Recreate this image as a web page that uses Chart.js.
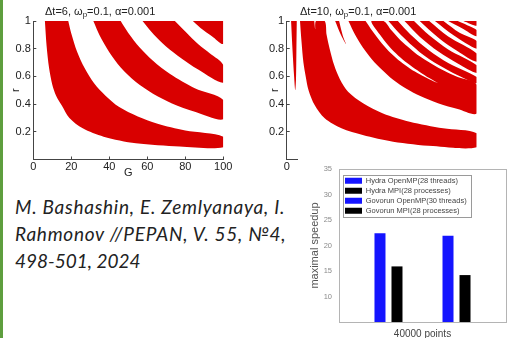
<!DOCTYPE html>
<html><head><meta charset="utf-8">
<script src="https://cdn.jsdelivr.net/npm/chart.js@4.4.1/dist/chart.umd.min.js"></script>
<style>
html,body{margin:0;padding:0;background:#fff;}
#page{position:relative;width:513px;height:338px;overflow:hidden;background:#fff;font-family:'Liberation Sans',Arial,sans-serif;}
.cv{position:absolute;}
.ttl{position:absolute;font-size:11px;color:#222;white-space:nowrap;line-height:13px;font-family:'Liberation Sans',Arial,sans-serif;}
.ttl sub{font-size:8px;vertical-align:-2px;line-height:0;}
#cite{position:absolute;left:15px;top:194.3px;font-family:Lato,'Open Sans',sans-serif;font-style:italic;font-size:19px;line-height:26.7px;color:#222;white-space:nowrap;}
#cite span{display:block;}
#edge{position:absolute;left:0;top:0;width:3px;height:338px;background:#5e9e3e;}
#barbox{position:absolute;left:298px;top:156px;width:215px;height:182px;background:#fff;}
</style></head>
<body><div id="page">
<div id="edge"></div>
<canvas id="c6" class="cv" style="left:0;top:0" width="236" height="185"></canvas>
<canvas id="c10" class="cv" style="left:255px;top:0" width="234" height="185"></canvas>
<div class="ttl" style="left:45px;top:5px">Δt=6, ω<sub>p</sub>=0.1, α=0.001</div>
<div class="ttl" style="left:300px;top:5px">Δt=10, ω<sub>p</sub>=0.1, α=0.001</div>
<div id="cite"><span style="letter-spacing:0.75px">M. Bashashin, E. Zemlyanaya, I.</span><span style="letter-spacing:0.75px">Rahmonov //PEPAN, V. 55, №4,</span><span>498-501, 2024</span></div>
<div id="barbox"><canvas id="cb" width="215" height="182"></canvas></div>
</div>
<script>
// ---------- axis ticks ----------
const gTicks = [0, 20, 40, 60, 80, 100];
const rTicks = [0.2, 0.4, 0.6, 0.8, 1];

// ---------- Δt=6 : resonance band boundaries [G, r] ----------
const dt6BandALower = [[6.1,1],[7,0.82],[8.3,0.66],[10,0.54],[12,0.46],[15,0.39],[19,0.3],[26,0.225],[37,0.165],[54,0.117],[77,0.094],[100,0.088]];
const dt6BandAUpper = [[18.4,1],[20,0.91],[23,0.78],[27,0.66],[32,0.55],[38,0.46],[45,0.38],[55,0.31],[65,0.26],[80,0.209],[100,0.165]];
const dt6BandBLower = [[31.6,1],[35,0.894],[40,0.775],[46,0.665],[54,0.559],[63,0.475],[73,0.405],[85,0.345],[100,0.29]];
const dt6BandBUpper = [[46,1],[50,0.914],[56,0.809],[63,0.713],[72,0.617],[85,0.514],[100,0.43]];
const dt6BandCLower = [[57.5,1],[62,0.925],[68,0.84],[76,0.75],[87,0.648],[100,0.555]];
const dt6BandCUpper = [[74.5,1],[80,0.925],[87,0.83],[93,0.765],[100,0.682]];
const dt6BandDLower = [[84,1],[88,0.95],[94,0.89],[100,0.835]];
const dt6BandDUpper = [[100,1]];

// ---------- Δt=10 : resonance band boundaries [G, r] ----------
const dt10Sliver = [[2.3,1],[3.1,0.78],[3.9,0.6],[4.5,0.5],[4.9,0.58],[5.1,0.78],[5.3,1]];
const dt10BandALower = [[7,1],[7.8,0.85],[8.8,0.7],[10,0.6],[11.5,0.5],[14.7,0.393],[20,0.297],[28.8,0.225],[40,0.177],[56,0.129],[77,0.097],[100,0.088]];
const dt10BandAUpper = [[20,1],[21,0.9],[22.6,0.8],[25,0.68],[28,0.58],[32.3,0.49],[40.2,0.406],[50.7,0.333],[64.7,0.273],[82.3,0.225],[100,0.189]];
const dt10BandANotch = [[15.4,1],[15,0.94],[14.5,1]];
const dt10Sliver2 = [[25.5,1],[28.5,0.9],[31.3,0.83],[29.6,0.89],[27.6,1]];
const dt10Stripe1Lower = [[32.5,1],[36,0.9],[40,0.81],[45,0.72],[50,0.65],[56,0.575],[63,0.51],[70,0.46],[80,0.405],[90,0.365],[100,0.333]];
const dt10Stripe1Upper = [[41.5,1],[45,0.93],[50,0.84],[55,0.765],[60,0.705],[65,0.655],[70,0.615],[75,0.58],[80,0.548]];
const dt10Stripe2Lower = [[44.5,1],[50,0.885],[55,0.8],[60,0.735],[65,0.68],[70,0.632],[75,0.588],[80,0.548]];
const dt10Stripe2Upper = [[51,1],[55,0.935],[60,0.86],[65,0.8],[70,0.745],[80,0.66],[90,0.595],[100,0.54]];
const dt10Stripe3Lower = [[53.5,1],[60,0.9],[70,0.775],[80,0.682],[90,0.608],[100,0.55]];
const dt10Stripe3Upper = [[58.5,1],[65,0.905],[75,0.787],[85,0.697],[100,0.595]];
const dt10Stripe4Lower = [[62,1],[70,0.887],[80,0.778],[90,0.693],[100,0.625]];
const dt10Stripe4Upper = [[67,1],[75,0.897],[85,0.795],[100,0.68]];
const dt10Stripe5Lower = [[70,1],[80,0.877],[90,0.781],[100,0.705]];
const dt10Stripe5Upper = [[75,1],[85,0.888],[100,0.765]];
const dt10Stripe6Lower = [[78,1],[88,0.895],[100,0.8]];
const dt10Stripe6Upper = [[82.5,1],[91,0.915],[100,0.855]];
const dt10Stripe7Lower = [[85,1],[92,0.95],[100,0.89]];
const dt10Stripe7Upper = [[90,1],[95,0.97],[100,0.935]];
const dt10Stripe8Lower = [[93,1],[100,0.965]];
const dt10Stripe8Upper = [[100,1]];
const dt10Slit = [[41,0.84],[46,0.77],[52,0.695]];

// ---------- speedup bar chart ----------
const speedCategories = ['40000 points'];
const seriesNames = ['Hydra OpenMP(28 threads)', 'Hydra MPI(28 processes)', 'Govorun OpenMP(30 threads)', 'Govorun MPI(28 processes)'];
const hydraOpenMP = [22.4];
const hydraMPI = [15.9];
const govorunOpenMP = [21.9];
const govorunMPI = [14.2];
const speedTicks = [5, 10, 15, 20, 25, 30, 35];

// ---------- helpers ----------
Chart.defaults.font.family = 'Liberation Sans';
const RED = '#d90000';
const rev = a => a.slice().reverse();
const band = (lower, upper) => lower.concat(rev(upper));
function shape(points, color) {
  return { data: points, fill: 'shape', backgroundColor: color, borderColor: 'rgba(0,0,0,0)', borderWidth: 0, pointRadius: 0, tension: 0.3 };
}
function bandChart(id, datasets, o) {
  return new Chart(document.getElementById(id), {
    type: 'line',
    data: { datasets },
    options: {
      responsive: false, animation: false, events: [],
      layout: { padding: { top: 21, right: o.padRight, left: 0, bottom: 0 } },
      plugins: { legend: { display: false }, tooltip: { enabled: false } },
      scales: {
        x: {
          type: 'linear', min: 0, max: 100,
          afterBuildTicks: s => { s.ticks = gTicks.map(v => ({ value: v })); },
          afterFit: s => { s.height = 25.5; },
          grid: { drawOnChartArea: false, tickLength: -3, color: '#444' },
          border: { color: '#444', width: 1 },
          ticks: { padding: 3.5, color: '#222', font: { size: 11 }, maxRotation: 0, autoSkip: false, callback: o.xLabel },
          title: { display: o.showG, text: 'G', color: '#222', font: { size: 11 }, padding: { top: 0, bottom: 5 } }
        },
        y: {
          type: 'linear', min: 0, max: 1,
          afterBuildTicks: s => { s.ticks = rTicks.map(v => ({ value: v })); },
          afterFit: s => { s.width = o.yWidth; },
          grid: { drawOnChartArea: false, tickLength: -3, color: '#444' },
          border: { color: '#444', width: 1 },
          ticks: { padding: 5.5, color: '#222', font: { size: 11 }, callback: v => String(v) },
          title: { display: true, text: 'r', color: '#222', font: { size: 11 }, padding: { top: o.rPad, bottom: 0 } }
        }
      }
    }
  });
}

// Δt=6
bandChart('c6', [
  shape(band(dt6BandALower, dt6BandAUpper), RED),
  shape(band(dt6BandBLower, dt6BandBUpper), RED),
  shape(band(dt6BandCLower, dt6BandCUpper), RED),
  shape(band(dt6BandDLower, dt6BandDUpper), RED)
], { padRight: 12.7, yWidth: 33.3, showG: true, rPad: 9.4, xLabel: v => String(v) });

// Δt=10
const dt10Merged = dt10Stripe1Lower.concat(rev(dt10Stripe2Upper), dt10Stripe2Lower, rev(dt10Stripe1Upper));
bandChart('c10', [
  shape(dt10Sliver, RED),
  shape(band(dt10BandALower, dt10BandAUpper).concat(dt10BandANotch), RED),
  shape(dt10Sliver2, RED),
  shape(dt10Merged, RED),
  shape(band(dt10Stripe3Lower, dt10Stripe3Upper), RED),
  shape(band(dt10Stripe4Lower, dt10Stripe4Upper), RED),
  shape(band(dt10Stripe5Lower, dt10Stripe5Upper), RED),
  shape(band(dt10Stripe6Lower, dt10Stripe6Upper), RED),
  shape(band(dt10Stripe7Lower, dt10Stripe7Upper), RED),
  shape(band(dt10Stripe8Lower, dt10Stripe8Upper), RED),
  { data: dt10Slit, fill: false, borderColor: '#fff', borderWidth: 1.2, pointRadius: 0 }
], { padRight: 12.3, yWidth: 31.7, showG: false, rPad: 13.4, xLabel: v => (v === 0 ? '0' : '') });

// bar chart
const legendPlacer = {
  id: 'legendPlacer',
  afterLayout(chart) {
    const lg = chart.legend, a = chart.chartArea;
    const w = lg.width, h = lg.height;
    lg.left = a.left + 3.5; lg.top = a.top + 5.5;
    lg.right = lg.left + w; lg.bottom = lg.top + h;
  },
  afterDraw(chart) {
    const { ctx, chartArea: a } = chart;
    ctx.save();
    ctx.strokeStyle = '#b4b4b4'; ctx.lineWidth = 1;
    ctx.strokeRect(Math.round(a.left) + 0.5, Math.round(a.top) + 0.5, Math.round(a.right - a.left), Math.round(a.bottom - a.top));
    const hb = chart.legend.legendHitBoxes;
    const x0 = Math.min(...hb.map(b => b.left)) - 2;
    const y0 = Math.min(...hb.map(b => b.top)) - 2;
    const x1 = Math.max(...hb.map(b => b.left + b.width)) + 4;
    const y1 = Math.max(...hb.map(b => b.top + b.height)) + 2;
    ctx.strokeStyle = '#9a9a9a';
    ctx.strokeRect(Math.round(x0) + 0.5, Math.round(y0) + 0.5, Math.round(x1 - x0), Math.round(y1 - y0));
    ctx.restore();
  }
};
const BLUE = '#1414ff';
const barOpts = { categoryPercentage: 0.611, barPercentage: 0.647, borderWidth: 0 };
new Chart(document.getElementById('cb'), {
  type: 'bar',
  data: {
    labels: speedCategories,
    datasets: [
      Object.assign({ label: seriesNames[0], data: hydraOpenMP, backgroundColor: BLUE }, barOpts),
      Object.assign({ label: seriesNames[1], data: hydraMPI, backgroundColor: '#000' }, barOpts),
      Object.assign({ label: '', data: [null], backgroundColor: 'rgba(0,0,0,0)' }, barOpts),
      Object.assign({ label: '', data: [null], backgroundColor: 'rgba(0,0,0,0)' }, barOpts),
      Object.assign({ label: seriesNames[2], data: govorunOpenMP, backgroundColor: BLUE }, barOpts),
      Object.assign({ label: seriesNames[3], data: govorunMPI, backgroundColor: '#000' }, barOpts)
    ]
  },
  options: {
    responsive: false, animation: false, events: [],
    layout: { padding: { top: 13, right: 7, left: 0, bottom: 0 } },
    plugins: {
      tooltip: { enabled: false },
      legend: {
        position: 'chartArea', align: 'start',
        labels: { boxWidth: 17, boxHeight: 6, padding: 2.5, color: '#444', font: { size: 7.5 }, filter: it => it.text !== '' }
      }
    },
    scales: {
      x: {
        afterFit: s => { s.height = 16; },
        grid: { display: false, drawTicks: false, tickLength: 0 }, border: { display: false },
        ticks: { padding: 6.5, color: '#444', font: { size: 10 } }
      },
      y: {
        min: 5, max: 35,
        afterBuildTicks: s => { s.ticks = speedTicks.map(v => ({ value: v })); },
        afterFit: s => { s.width = 41; },
        grid: { display: false, drawTicks: false, tickLength: 0 }, border: { display: false },
        ticks: { padding: 7, color: '#8a8a8a', font: { size: 7.5 }, callback: v => (v === 5 ? '' : String(v)) },
        title: { display: true, text: 'maximal speedup', color: '#555', font: { size: 11 }, padding: { top: 10.4, bottom: 0 } }
      }
    }
  },
  plugins: [legendPlacer]
});
</script>
</body></html>
